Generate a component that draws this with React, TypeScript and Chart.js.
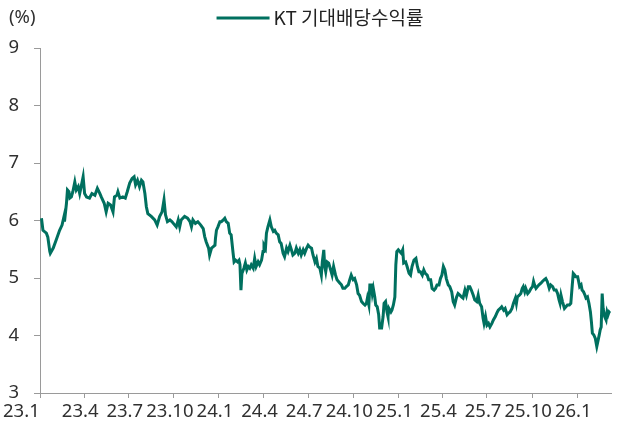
import React, { useEffect, useRef } from 'react';
import { Chart, registerables } from 'chart.js';

Chart.register(...registerables);

// ---------- data ----------
const seriesName = 'KT 기대배당수익률';
const unitLabel = '(%)';

const dates2023 = [
  '2023-01-04','2023-01-07','2023-01-14','2023-01-17','2023-01-21','2023-01-22','2023-01-28','2023-02-03','2023-02-10','2023-02-15',
  '2023-02-19','2023-02-20','2023-02-24','2023-02-26','2023-03-01','2023-03-03','2023-03-06','2023-03-09','2023-03-13','2023-03-16',
  '2023-03-20','2023-03-23','2023-03-26','2023-03-30','2023-04-02','2023-04-06','2023-04-12','2023-04-17','2023-04-23','2023-04-28',
  '2023-05-03','2023-05-06','2023-05-12','2023-05-16','2023-05-20','2023-05-25','2023-05-30','2023-06-02','2023-06-07','2023-06-09',
  '2023-06-13','2023-06-19','2023-06-24','2023-06-28','2023-07-03','2023-07-08','2023-07-12','2023-07-15','2023-07-19','2023-07-23',
  '2023-07-27','2023-07-30','2023-08-03','2023-08-06','2023-08-09','2023-08-16','2023-08-23','2023-08-28','2023-09-02','2023-09-07',
  '2023-09-11','2023-09-14','2023-09-18','2023-09-23','2023-09-27','2023-10-03','2023-10-06','2023-10-10','2023-10-13','2023-10-16',
  '2023-10-23','2023-10-29','2023-11-03','2023-11-06','2023-11-09','2023-11-14','2023-11-19','2023-11-25','2023-11-30','2023-12-03',
  '2023-12-06','2023-12-11','2023-12-13','2023-12-17','2023-12-20','2023-12-24','2023-12-25','2023-12-27','2023-12-30',
];
const yield2023 = [
  6.04,5.83,5.78,5.71,5.46,5.43,5.52,5.66,5.83,5.92,
  6.07,5.98,6.30,6.53,6.50,6.39,6.41,6.50,6.67,6.53,
  6.59,6.47,6.59,6.76,6.47,6.41,6.39,6.47,6.44,6.56,
  6.47,6.41,6.30,6.15,6.30,6.27,6.15,6.41,6.44,6.50,
  6.39,6.41,6.39,6.50,6.65,6.73,6.76,6.62,6.70,6.59,
  6.70,6.67,6.47,6.24,6.12,6.07,6.01,5.92,6.07,6.15,
  6.36,6.10,5.98,6.01,5.98,5.92,5.89,6.01,5.89,6.01,
  6.07,6.04,5.98,5.89,6.01,5.95,5.98,5.92,5.86,5.72,
  5.63,5.52,5.40,5.52,5.54,5.57,5.69,5.83,5.89,
];

const dates2024 = [
  '2024-01-03','2024-01-06','2024-01-10','2024-01-13','2024-01-16','2024-01-20','2024-01-23','2024-01-26','2024-01-30','2024-02-01',
  '2024-02-04','2024-02-08','2024-02-11','2024-02-13','2024-02-15','2024-02-17','2024-02-21','2024-02-24','2024-02-27','2024-03-01',
  '2024-03-04','2024-03-07','2024-03-11','2024-03-14','2024-03-17','2024-03-21','2024-03-24','2024-03-28','2024-03-31','2024-04-02',
  '2024-04-05','2024-04-07','2024-04-10','2024-04-14','2024-04-17','2024-04-21','2024-04-24','2024-04-27','2024-05-01','2024-05-04',
  '2024-05-07','2024-05-11','2024-05-14','2024-05-18','2024-05-21','2024-05-25','2024-05-28','2024-05-31','2024-06-04','2024-06-07',
  '2024-06-11','2024-06-14','2024-06-17','2024-06-21','2024-06-24','2024-06-28','2024-07-01','2024-07-04','2024-07-08','2024-07-11',
  '2024-07-15','2024-07-18','2024-07-21','2024-07-25','2024-07-28','2024-07-30','2024-08-02','2024-08-04','2024-08-06','2024-08-09',
  '2024-08-12','2024-08-16','2024-08-19','2024-08-22','2024-08-26','2024-08-29','2024-09-04','2024-09-07','2024-09-10','2024-09-14',
  '2024-09-17','2024-09-21','2024-09-24','2024-09-27','2024-10-01','2024-10-04','2024-10-08','2024-10-11','2024-10-14','2024-10-18',
  '2024-10-21','2024-10-25','2024-10-28','2024-10-30','2024-11-02','2024-11-04','2024-11-07','2024-11-09','2024-11-11','2024-11-14',
  '2024-11-16','2024-11-19','2024-11-22','2024-11-24','2024-11-28','2024-12-01','2024-12-03','2024-12-06','2024-12-09','2024-12-11',
  '2024-12-13','2024-12-17','2024-12-19','2024-12-22','2024-12-25','2024-12-27','2024-12-29',
];
const yield2024 = [
  5.98,5.98,6.01,6.04,5.98,5.95,5.78,5.75,5.43,5.28,
  5.31,5.28,5.31,5.23,4.79,5.08,5.17,5.26,5.14,5.20,
  5.17,5.23,5.17,5.34,5.20,5.28,5.23,5.31,5.46,5.57,
  5.52,5.78,5.89,6.01,5.89,5.81,5.83,5.78,5.75,5.63,
  5.60,5.43,5.37,5.52,5.46,5.57,5.49,5.40,5.43,5.52,
  5.43,5.49,5.40,5.49,5.43,5.52,5.57,5.54,5.52,5.40,
  5.28,5.34,5.20,5.17,5.05,5.28,5.49,5.20,5.11,5.28,
  5.26,5.14,5.05,5.20,5.05,4.97,4.91,4.88,4.82,4.82,
  4.85,4.88,4.97,5.05,4.97,4.99,4.88,4.73,4.70,4.59,
  4.56,4.53,4.56,4.65,4.53,4.88,4.88,4.73,4.82,4.67,
  4.53,4.50,4.36,4.13,4.13,4.33,4.56,4.59,4.41,4.33,
  4.47,4.41,4.44,4.53,4.67,5.23,5.46,
];

const dates2025 = [
  '2025-01-01','2025-01-04','2025-01-07','2025-01-10','2025-01-12','2025-01-16','2025-01-19','2025-01-23','2025-01-26','2025-01-29',
  '2025-02-02','2025-02-06','2025-02-09','2025-02-12','2025-02-15','2025-02-19','2025-02-22','2025-02-25','2025-03-01','2025-03-04',
  '2025-03-08','2025-03-11','2025-03-15','2025-03-18','2025-03-21','2025-03-25','2025-03-28','2025-03-31','2025-04-03','2025-04-06',
  '2025-04-09','2025-04-13','2025-04-16','2025-04-20','2025-04-23','2025-04-26','2025-04-30','2025-05-03','2025-05-07','2025-05-10',
  '2025-05-13','2025-05-17','2025-05-20','2025-05-24','2025-05-27','2025-05-30','2025-06-03','2025-06-06','2025-06-10','2025-06-13',
  '2025-06-16','2025-06-20','2025-06-23','2025-06-25','2025-06-28','2025-07-01','2025-07-04','2025-07-07','2025-07-11','2025-07-14',
  '2025-07-18','2025-07-21','2025-07-24','2025-07-28','2025-07-31','2025-08-04','2025-08-07','2025-08-11','2025-08-14','2025-08-17',
  '2025-08-21','2025-08-24','2025-08-28','2025-08-30','2025-09-01','2025-09-05','2025-09-08','2025-09-11','2025-09-13','2025-09-16',
  '2025-09-18','2025-09-22','2025-09-25','2025-09-29','2025-10-02','2025-10-04','2025-10-06','2025-10-09','2025-10-12','2025-10-15',
  '2025-10-19','2025-10-22','2025-10-26','2025-10-29','2025-11-01','2025-11-05','2025-11-08','2025-11-12','2025-11-15','2025-11-19',
  '2025-11-22','2025-11-25','2025-11-27','2025-11-29','2025-12-02','2025-12-06','2025-12-09','2025-12-12','2025-12-16','2025-12-19',
  '2025-12-22','2025-12-24','2025-12-27','2025-12-29',
];
const yield2025 = [
  5.49,5.46,5.43,5.49,5.26,5.28,5.20,5.08,5.05,5.20,
  5.31,5.34,5.20,5.11,5.11,5.05,5.14,5.08,5.05,4.97,
  4.97,4.82,4.79,4.82,4.88,4.88,4.99,5.05,5.20,5.14,
  4.99,4.88,4.85,4.76,4.59,4.53,4.67,4.73,4.70,4.67,
  4.65,4.79,4.70,4.85,4.85,4.79,4.70,4.62,4.59,4.70,
  4.56,4.50,4.30,4.21,4.33,4.18,4.21,4.15,4.21,4.27,
  4.33,4.39,4.44,4.47,4.50,4.44,4.47,4.36,4.39,4.41,
  4.47,4.56,4.65,4.56,4.67,4.70,4.73,4.82,4.85,4.76,
  4.82,4.73,4.76,4.82,4.85,4.94,4.88,4.82,4.85,4.88,
  4.91,4.94,4.97,4.99,4.94,4.82,4.88,4.85,4.79,4.79,
  4.73,4.62,4.56,4.70,4.59,4.47,4.50,4.53,4.53,4.56,
  4.88,5.08,5.05,5.02,
];

const dates2026 = [
  '2026-01-02','2026-01-04','2026-01-06','2026-01-09','2026-01-11','2026-01-14','2026-01-17','2026-01-19','2026-01-22','2026-01-25',
  '2026-01-28','2026-01-30','2026-02-01','2026-02-04','2026-02-07','2026-02-10','2026-02-12','2026-02-15','2026-02-17','2026-02-19',
  '2026-02-21','2026-02-23','2026-02-26','2026-03-01','2026-03-03','2026-03-05','2026-03-07','2026-03-09',
];
const yield2026 = [
  5.02,4.94,4.85,4.88,4.79,4.76,4.70,4.65,4.67,4.56,
  4.41,4.24,4.04,4.01,3.95,3.81,3.89,4.01,4.10,4.15,
  4.73,4.47,4.33,4.27,4.41,4.36,4.41,4.39,
];

const quarterDates = [
  '2023-01-01','2023-04-01','2023-07-01','2023-10-01','2024-01-01','2024-04-01','2024-07-01',
  '2024-10-01','2025-01-01','2025-04-01','2025-07-01','2025-10-01','2026-01-01',
];
const quarterLabels = ['23.1','23.4','23.7','23.10','24.1','24.4','24.7','24.10','25.1','25.4','25.7','25.10','26.1'];

const axisStartDate = '2023-01-01';
const axisEndDate = '2026-03-11';
const yMin = 3;
const yMax = 9;
const yStep = 1;

// ---------- styles ----------
const LINE_COLOR = '#00705f';
const AXIS_COLOR = '#9a9a9a';
const TEXT_COLOR = '#303030';
const TICK_FONT = "'Noto Sans', sans-serif";
const TICK_SIZE = 18.5;
const LEGEND_FONT = "'Noto Sans CJK KR', 'Noto Sans', sans-serif";

const DAY_MS = 86400000;
const baseUTC = (() => { const [y, m, d] = axisStartDate.split('-').map(Number); return Date.UTC(y, m - 1, d); })();
const toDay = (s: string) => {
  const [y, m, d] = s.split('-').map(Number);
  return (Date.UTC(y, m - 1, d) - baseUTC) / DAY_MS;
};

const allDates = [...dates2023, ...dates2024, ...dates2025, ...dates2026];
const allYields = [...yield2023, ...yield2024, ...yield2025, ...yield2026];

const headerPlugin = {
  id: 'headerText',
  afterDraw(chart: any) {
    const { ctx, chartArea } = chart;
    ctx.save();
    ctx.textBaseline = 'middle';
    ctx.textAlign = 'left';
    ctx.fillStyle = TEXT_COLOR;
    ctx.font = `${TICK_SIZE}px ${TICK_FONT}`;
    ctx.fillText(unitLabel, 9, 18);

    ctx.font = `19px ${LEGEND_FONT}`;
    const tw = ctx.measureText(seriesName).width;
    const lineLen = 53;
    const gap = 4;
    const total = lineLen + gap + tw;
    const cx = (chartArea.left + chartArea.right) / 2 - 5.5;
    const x0 = cx - total / 2;
    ctx.strokeStyle = LINE_COLOR;
    ctx.lineWidth = 3;
    ctx.beginPath();
    ctx.moveTo(x0, 18);
    ctx.lineTo(x0 + lineLen, 18);
    ctx.stroke();
    ctx.fillStyle = '#222';
    ctx.fillText(seriesName, x0 + lineLen + gap, 18);
    ctx.restore();
  },
};

export default function App() {
  const canvasRef = useRef<HTMLCanvasElement | null>(null);

  useEffect(() => {
    if (!canvasRef.current) return;
    const points = allDates.map((d, i) => ({ x: toDay(d), y: allYields[i] }));
    const quarterDays = quarterDates.map(toDay);
    const xMax = toDay(axisEndDate);

    const chart = new Chart(canvasRef.current, {
      type: 'line',
      data: {
        datasets: [
          {
            label: seriesName,
            data: points,
            borderColor: LINE_COLOR,
            backgroundColor: LINE_COLOR,
            borderWidth: 3,
            pointRadius: 0,
            tension: 0,
            fill: false,
          },
        ],
      },
      options: {
        animation: false,
        responsive: false,
        devicePixelRatio: 1,
        layout: { padding: { top: 48, right: 7, left: 0, bottom: 0 } },
        plugins: {
          legend: { display: false },
          tooltip: { enabled: false },
        },
        scales: {
          x: {
            type: 'linear',
            position: 'bottom',
            min: 0,
            max: xMax,
            afterBuildTicks: (s: any) => {
              s.ticks = quarterDays.map((v) => ({ value: v }));
            },
            ticks: { display: false },
            grid: { display: true, drawOnChartArea: false, drawTicks: true, tickLength: 5, color: AXIS_COLOR },
            border: { display: true, color: AXIS_COLOR, width: 1 },
            afterFit: (s: any) => { s.height = 5; },
          },
          xl: {
            type: 'linear',
            position: 'bottom',
            min: 0,
            max: xMax,
            afterBuildTicks: (s: any) => {
              s.ticks = quarterDays.map((v, i) => ({ value: v - (i === 0 ? 38 : 8) }));
            },
            ticks: {
              autoSkip: false,
              maxRotation: 0,
              minRotation: 0,
              padding: 3,
              color: TEXT_COLOR,
              font: { family: TICK_FONT, size: TICK_SIZE },
              callback: (_v: any, i: number) => quarterLabels[i],
            },
            grid: { display: false, drawTicks: false },
            border: { display: false },
            afterFit: (s: any) => { s.height = 23; },
          },
          y: {
            type: 'linear',
            min: yMin,
            max: yMax,
            ticks: {
              stepSize: yStep,
              padding: 15,
              color: TEXT_COLOR,
              font: { family: TICK_FONT, size: TICK_SIZE },
            },
            grid: { display: true, drawOnChartArea: false, drawTicks: true, tickLength: 6, color: AXIS_COLOR },
            border: { display: true, color: AXIS_COLOR, width: 1 },
            afterFit: (s: any) => { s.width = 40; },
          },
        },
      },
      plugins: [headerPlugin],
    } as any);

    return () => chart.destroy();
  }, []);

  return (
    <div style={{ position: 'fixed', left: 0, top: 0, width: 618, height: 421, background: '#fff' }}>
      <canvas ref={canvasRef} width={618} height={421} />
    </div>
  );
}
